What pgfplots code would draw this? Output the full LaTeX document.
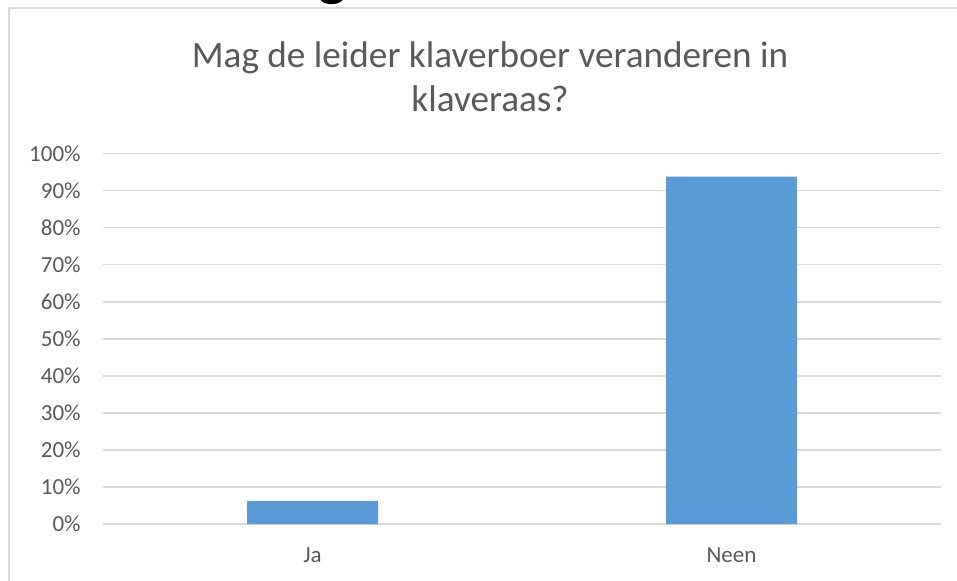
\documentclass[border=0pt]{standalone}
\usepackage{pgfplots}
\pgfplotsset{compat=1.18}
\usepackage{fontspec}
\setmainfont{Carlito}
\definecolor{barblue}{HTML}{5B9BD5}
\definecolor{gridgrey}{HTML}{D9D9D9}
\definecolor{txtgrey}{HTML}{595959}
\begin{document}
\begin{tikzpicture}[x=0.5pt,y=0.5pt]
\useasboundingbox (0,0) rectangle (957,580);
\begin{scope}
\clip (0,0) rectangle (957,580);
\node[anchor=base, inner sep=0pt, font=\fontsize{30}{32}\selectfont\bfseries] at (333,585) {g};
\draw[gridgrey, line width=1pt] (9,-10) -- (9,572) -- (970,572);
\end{scope}
\node[anchor=base, inner sep=0pt, font=\fontsize{18.6}{22}\selectfont, text=txtgrey] at (490,513) {Mag de leider klaverboer veranderen in};
\node[anchor=base, inner sep=0pt, font=\fontsize{18.6}{22}\selectfont, text=txtgrey] at (490,469) {klaveraas?};
\begin{axis}[
  at={(51.5pt,28pt)}, anchor=south west,
  scale only axis, width=419pt, height=185.25pt,
  xmin=-0.5, xmax=1.5, ymin=0, ymax=100,
  axis line style={draw=none},
  ymajorgrids, grid style={gridgrey, line width=0.8pt},
  ytick={0,10,...,100}, xtick={0,1}, xticklabels={Ja,Neen},
  major tick length=0pt,
  tick label style={font=\fontsize{11.5}{12}\selectfont, text=txtgrey},
  /pgf/number format/assume math mode=true,
  yticklabel={\pgfmathprintnumber{\tick}\%},
  yticklabel style={anchor=east, inner sep=0pt, xshift=-11pt},
  xticklabel style={anchor=base, inner sep=0pt, yshift=-19pt},
  ybar, bar width=65.5pt,
  clip=false,
]
\addplot[fill=barblue, draw=none] coordinates {(0,6.25) (1,93.75)};
\end{axis}
\end{tikzpicture}
\end{document}
